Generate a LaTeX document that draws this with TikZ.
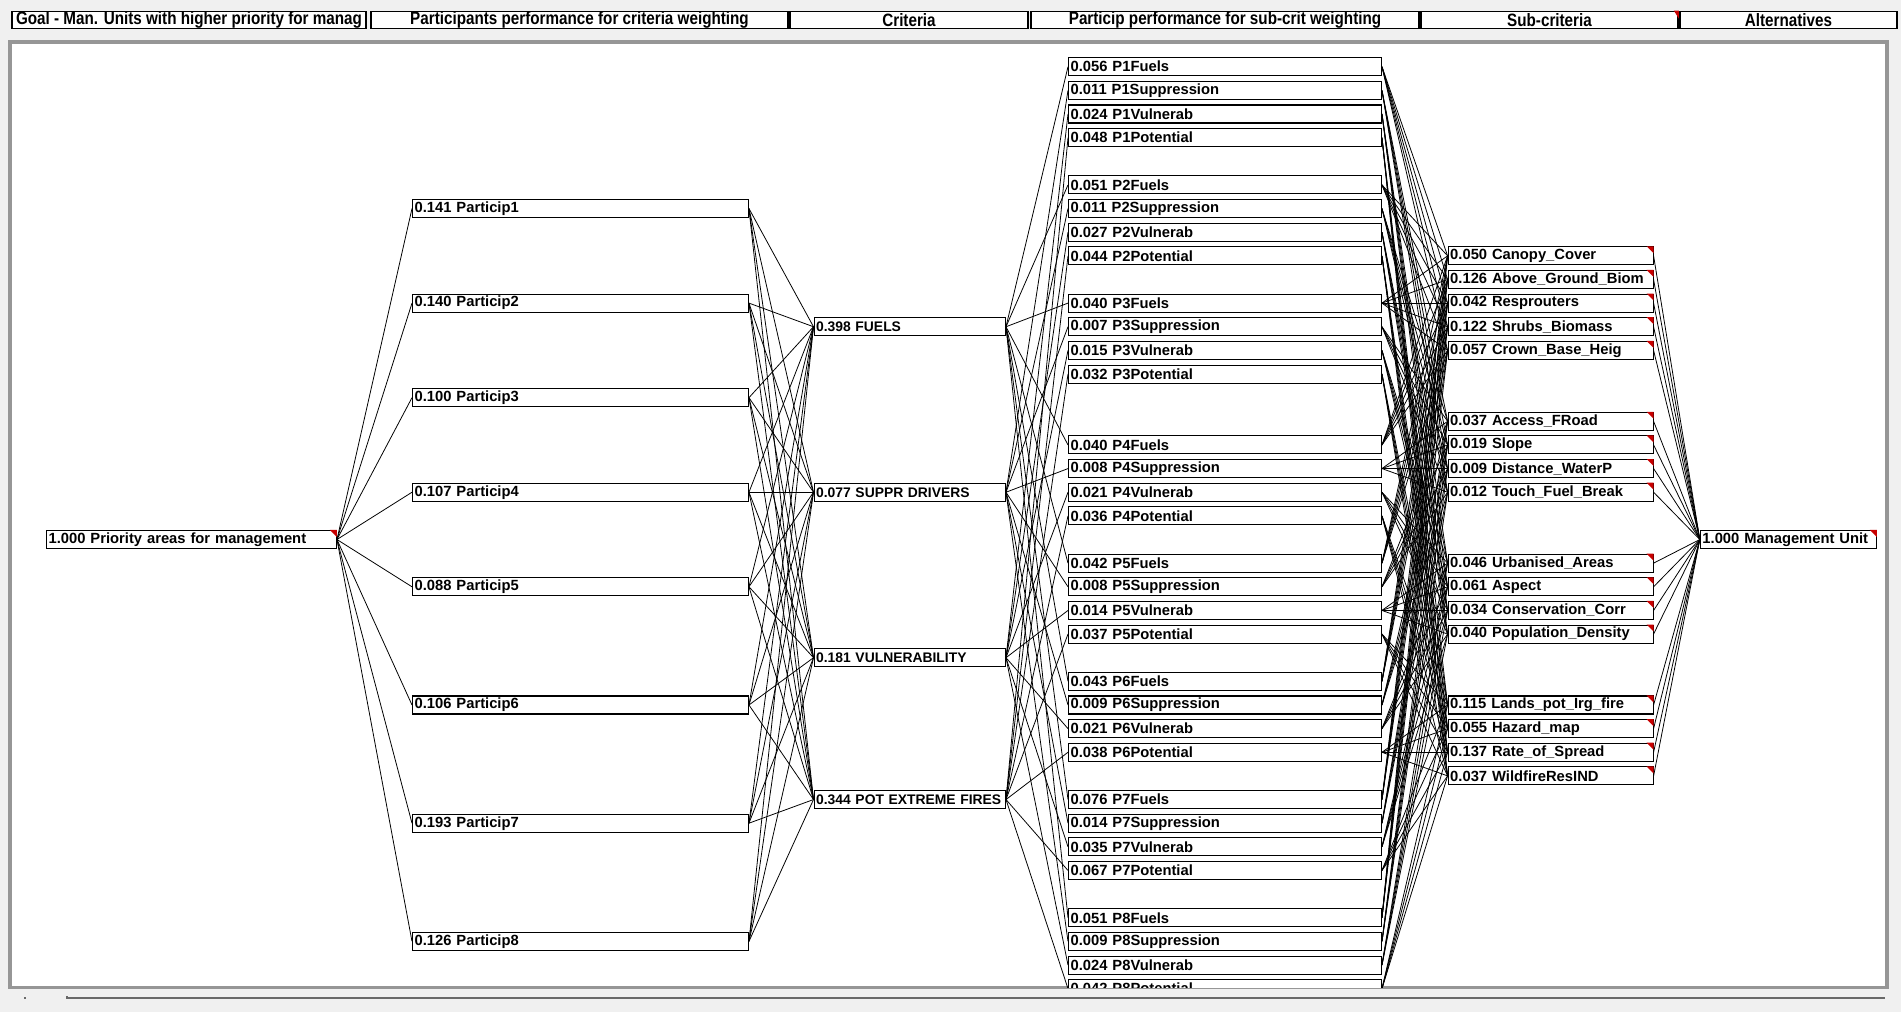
\documentclass[tikz,border=0pt]{standalone}
\usepackage{fontspec}
\setmainfont{Liberation Sans}
\newfontfamily\headfont[FakeStretch=0.85]{Liberation Sans}
\usepackage{tikz}
\usetikzlibrary{positioning}
\usepackage{xcolor}
\definecolor{ecred}{RGB}{200,0,0}
\definecolor{ecgray}{RGB}{150,150,150}
\definecolor{ecback}{RGB}{240,240,240}
\tikzstyle{hdr} = [draw, line width=1pt, fill=white, minimum height=0.34cm, inner sep=0pt, font=\headfont\bfseries\fontsize{10.2}{11}\selectfont]
\tikzstyle{box} = [draw, line width=0.6pt, fill=white, anchor=west, minimum height=0.36cm, inner xsep=1.2pt, inner ysep=0pt, align=left, font=\bfseries\fontsize{8.4}{9}\selectfont]
\tikzstyle{critbox} = [box, text width=3.745cm, font=\bfseries\fontsize{7.9}{9}\selectfont]
\tikzstyle{link} = [line width=0.45pt]
\tikzstyle{flag} = [fill=ecred]

\begin{document}
\begin{tikzpicture}[x=0.02cm, y=-0.02cm]
    % Window
    \fill[ecback] (0,0) rectangle (1901,1012);
    \useasboundingbox (0,0) rectangle (1901,1012);

    % Column headers
    \node[hdr, minimum width=7.08cm] (hgoal) at (189,20) {Goal - Man. Units with higher priority for manag};
    \node[hdr, minimum width=8.34cm] (hpart) at (579.5,20) {Participants performance for criteria weighting};
    \node[hdr, minimum width=4.76cm] (hcrit) at (909,20) {Criteria};
    \node[hdr, minimum width=7.76cm] (hperf) at (1225,20) {Particip performance for sub-crit weighting};
    \node[hdr, minimum width=5.14cm] (hsub) at (1549.5,20) {Sub-criteria};
    \node[hdr, minimum width=4.34cm] (halt) at (1788.5,20) {Alternatives};
    \fill[flag] (hsub.north east) -- ++(-5,0) -- ++(5,8) -- cycle;

    % Panel
    \draw[ecgray, line width=2pt, fill=white] (10,42) rectangle (1887,988);
    \fill[ecback] (8,989) rectangle (1889,1012);
    \draw[ecgray!70!black, line width=0.8pt] (67,998) -- (1885,998);
    \fill[ecgray!70!black] (24,997) rectangle (26,999);
    \fill[ecgray!70!black] (66,996) rectangle (68,999);

    \begin{scope}
    \clip (11,43) rectangle (1886,987);

    % Goal
    \node[box, text width=5.715cm] (goal) at (46,539.5) {1.000 Priority areas for management};

    % Participants
    \foreach \i/\k/\w in {1/6/0.141, 2/10/0.140, 3/14/0.100, 4/18/0.107,
                          5/22/0.088, 6/27/0.106, 7/32/0.193, 8/37/0.126}
        \node[box, text width=6.635cm] (p\i) at (412,{66.7+23.64*\k}) {\w\ Particip\i};

    % Criteria
    \node[critbox] (c1) at (813.5,{66.7+23.64*11}) {0.398 FUELS};
    \node[critbox] (c2) at (813.5,{66.7+23.64*18}) {0.077 SUPPR DRIVERS};
    \node[critbox] (c3) at (813.5,{66.7+23.64*25}) {0.181 VULNERABILITY};
    \node[critbox] (c4) at (813.5,{66.7+23.64*31}) {\mbox{0.344 POT EXTREME FIRES}};

    % Participant performance for sub-criteria
    \foreach \i/\s/\a/\b/\c/\d in {1/0/0.056/0.011/0.024/0.048, 2/5/0.051/0.011/0.027/0.044,
                                   3/10/0.040/0.007/0.015/0.032, 4/16/0.040/0.008/0.021/0.036,
                                   5/21/0.042/0.008/0.014/0.037, 6/26/0.043/0.009/0.021/0.038,
                                   7/31/0.076/0.014/0.035/0.067, 8/36/0.051/0.009/0.024/0.042} {
        \node[box, text width=6.175cm] (pp\i1) at (1068,{66.7+23.64*\s}) {\a\ P\i Fuels};
        \node[box, text width=6.175cm] (pp\i2) at (1068,{66.7+23.64*(\s+1)}) {\b\ P\i Suppression};
        \node[box, text width=6.175cm] (pp\i3) at (1068,{66.7+23.64*(\s+2)}) {\c\ P\i Vulnerab};
        \node[box, text width=6.175cm] (pp\i4) at (1068,{66.7+23.64*(\s+3)}) {\d\ P\i Potential};
    }

    % Sub-criteria
    \foreach \n/\k/\t in {1/8/0.050 Canopy\_Cover, 2/9/0.126 Above\_Ground\_Biom,
                          3/10/0.042 Resprouters, 4/11/0.122 Shrubs\_Biomass,
                          5/12/0.057 Crown\_Base\_Heig,
                          6/15/0.037 Access\_FRoad, 7/16/0.019 Slope,
                          8/17/0.009 Distance\_WaterP, 9/18/0.012 Touch\_Fuel\_Break,
                          10/21/0.046 Urbanised\_Areas, 11/22/0.061 Aspect,
                          12/23/0.034 Conservation\_Corr, 13/24/0.040 Population\_Density,
                          14/27/0.115 Lands\_pot\_Irg\_fire, 15/28/0.055 Hazard\_map,
                          16/29/0.137 Rate\_of\_Spread, 17/30/0.037 WildfireResIND}
        \node[box, text width=4.015cm] (s\n) at (1447.6,{66.7+23.64*\k}) {\t};

    % Alternatives
    \node[box, text width=3.435cm] (mu) at (1699.8,539.5) {1.000 Management Unit};

    % Links
    \foreach \i in {1,...,8}
        \draw[link] (goal.east) -- (p\i.west);
    \foreach \i in {1,...,8}
        \foreach \c in {1,...,4}
            \draw[link] (p\i.east) -- (c\c.west);
    \foreach \c in {1,...,4}
        \foreach \i in {1,...,8}
            \draw[link] (c\c.east) -- (pp\i\c.west);
    \foreach \i in {1,...,8} {
        \foreach \s in {1,...,5}
            \draw[link] (pp\i1.east) -- (s\s.west);
        \foreach \s in {6,...,9}
            \draw[link] (pp\i2.east) -- (s\s.west);
        \foreach \s in {10,...,13}
            \draw[link] (pp\i3.east) -- (s\s.west);
        \foreach \s in {14,...,17}
            \draw[link] (pp\i4.east) -- (s\s.west);
    }
    \foreach \s in {1,...,17}
        \draw[link] (s\s.east) -- (mu.west);

    % Red corner marks
    \foreach \n in {goal,mu,s1,s2,s3,s4,s5,s6,s7,s8,s9,s10,s11,s12,s13,s14,s15,s16,s17}
        \fill[flag] (\n.north east) -- ++(-7,0) -- ++(7,7) -- cycle;
    \end{scope}
\end{tikzpicture}
\end{document}
